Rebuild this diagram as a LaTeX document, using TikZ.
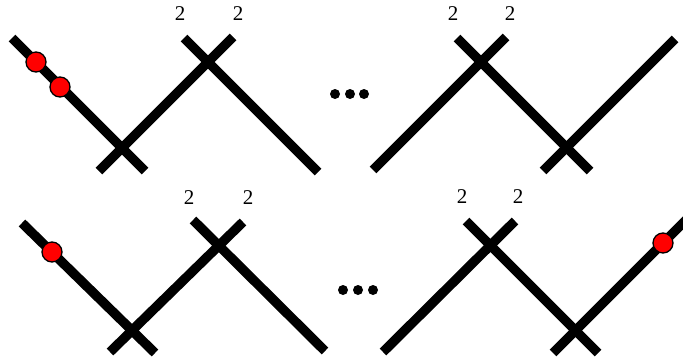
\documentclass[tikz,border=0pt]{standalone}
\usepackage{fontspec}
\setmainfont{Liberation Serif}
\begin{document}
\begin{tikzpicture}[x=1pt,y=-1pt,
  strand/.style={line width=9.5pt,line cap=butt,black},
  marker/.style={circle,draw=black,line width=1.3pt,fill=red,minimum size=20pt,inner sep=0pt},
  dotmark/.style={circle,fill=black,minimum size=10pt,inner sep=0pt},
  lab/.style={font=\fontsize{21}{21}\selectfont,inner sep=0pt}]
\useasboundingbox (0,0) rectangle (683,364);
\clip (0,0) rectangle (683,364);
% ---------- top left panel ----------
\coordinate (a1) at (122,148);
\coordinate (b1) at (208,62);
\coordinate (p1s) at (12,38);   \coordinate (p1e) at (145,171);
\coordinate (q1s) at (99,171);  \coordinate (q1e) at (233,37);
\coordinate (r1s) at (184,38);  \coordinate (r1e) at (318,172);
\draw[strand] (p1s) -- (p1e);
\draw[strand] (q1s) -- (q1e);
\draw[strand] (r1s) -- (r1e);
\node[marker] (m1) at (36,62) {};
\node[marker] (m2) at (60,87) {};
\node[lab] (l1) at (180,14) {2};
\node[lab] (l2) at (238,14) {2};
% dots top
\node[dotmark] (d1) at (335,94) {};
\node[dotmark] (d2) at (350,94) {};
\node[dotmark] (d3) at (364,94) {};
% ---------- top right panel ----------
\coordinate (c2) at (480,62);
\coordinate (d2x) at (567,148);
\coordinate (p2s) at (373,170);  \coordinate (p2e) at (506,37);
\coordinate (q2s) at (457,38);   \coordinate (q2e) at (590,171);
\coordinate (r2s) at (543,171);  \coordinate (r2e) at (675,39);
\draw[strand] (p2s) -- (p2e);
\draw[strand] (q2s) -- (q2e);
\draw[strand] (r2s) -- (r2e);
\node[lab] (l3) at (453,14) {2};
\node[lab] (l4) at (510,14) {2};
% ---------- bottom left panel ----------
\coordinate (a3) at (132,332);
\coordinate (b3) at (218,244);
\coordinate (p3s) at (22,223);   \coordinate (p3e) at (155,353);
\coordinate (q3s) at (110,352);  \coordinate (q3e) at (243,222);
\coordinate (r3s) at (193,220);  \coordinate (r3e) at (325,351);
\draw[strand] (p3s) -- (p3e);
\draw[strand] (q3s) -- (q3e);
\draw[strand] (r3s) -- (r3e);
\node[marker] (m3) at (52,252) {};
\node[lab] (l5) at (189,198) {2};
\node[lab] (l6) at (248,198) {2};
% dots bottom
\node[dotmark] (d4) at (343,290) {};
\node[dotmark] (d5) at (358,290) {};
\node[dotmark] (d6) at (373,290) {};
% ---------- bottom right panel ----------
\coordinate (c4) at (490,244);
\coordinate (d4x) at (575,332);
\coordinate (p4s) at (383,352);  \coordinate (p4e) at (515,221);
\coordinate (q4s) at (466,221);  \coordinate (q4e) at (598,353);
\coordinate (r4s) at (553,353);  \coordinate (r4e) at (692,214);
\draw[strand] (p4s) -- (p4e);
\draw[strand] (q4s) -- (q4e);
\draw[strand] (r4s) -- (r4e);
\node[marker] (m4) at (663,243) {};
\node[lab] (l7) at (462,197) {2};
\node[lab] (l8) at (518,197) {2};
\end{tikzpicture}
\end{document}
